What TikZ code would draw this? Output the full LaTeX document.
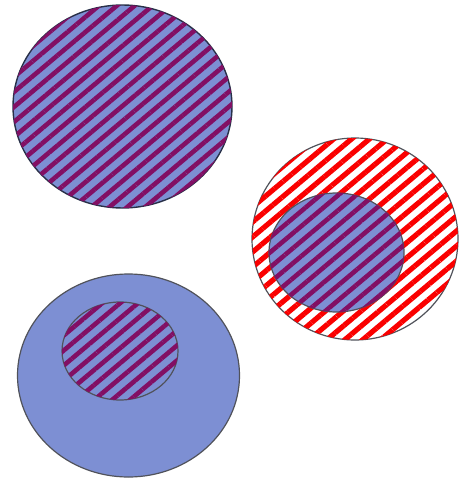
\documentclass[tikz,border=0pt]{standalone}
\usetikzlibrary{patterns.meta}
\definecolor{setblue}{RGB}{125,143,211}
\definecolor{stripepurple}{RGB}{130,15,100}
\definecolor{stripered}{RGB}{250,0,0}
\definecolor{rimdark}{RGB}{40,48,72}
\definecolor{rimgray}{RGB}{80,82,90}
\tikzset{
  purplestripes/.style={pattern={Lines[angle=40,distance=11.5pt,line width=4.6pt]},pattern color=stripepurple},
  redstripes/.style={pattern={Lines[angle=40,distance=11.5pt,line width=5.2pt]},pattern color=stripered},
  bluehatch/.style={fill=setblue,postaction={purplestripes}},
}
\begin{document}
\begin{tikzpicture}[x=1pt,y=-1pt]
  \useasboundingbox (0,0) rectangle (459,479);
  % oben links
  \draw[rimdark,line width=1.4pt,bluehatch] (122.5,106.5) ellipse [x radius=109.5,y radius=101.5];
  % rechts
  \draw[rimgray,line width=1.2pt,fill=white,postaction={redstripes}] (355,239) ellipse [x radius=103,y radius=101];
  \draw[rimgray,line width=1.2pt,bluehatch] (336.5,252.5) ellipse [x radius=67.5,y radius=59.5];
  % unten links
  \draw[rimgray,line width=1.2pt,fill=setblue] (128.5,375.5) ellipse [x radius=111,y radius=101.5];
  \draw[rimgray,line width=1.2pt,bluehatch] (120,351) ellipse [x radius=58,y radius=49];
\end{tikzpicture}
\end{document}
